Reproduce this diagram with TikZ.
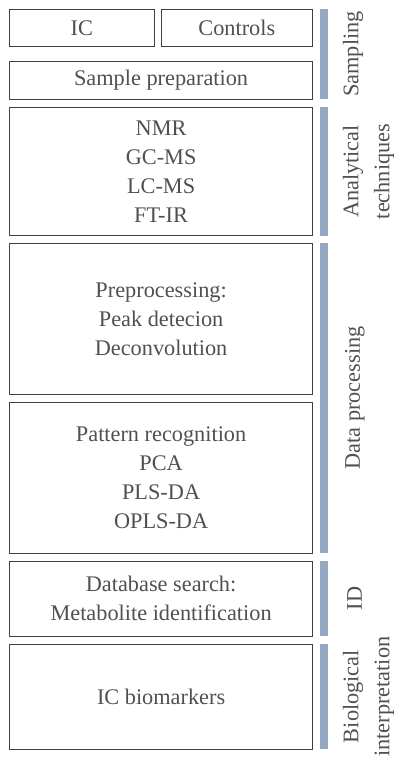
\documentclass[tikz,border=0pt]{standalone}
\usepackage{fontspec}
\setmainfont{Liberation Serif}
\definecolor{barblue}{HTML}{94A9C1}
\definecolor{txt}{HTML}{505050}
\definecolor{edge}{HTML}{404040}
\begin{document}
\begin{tikzpicture}[x=1pt,y=-1pt,
  box/.style={draw=edge, line width=0.8pt, text=txt, align=center,
    font=\fontsize{22.3}{29}\selectfont, inner sep=0pt},
  bar/.style={fill=barblue, draw=none},
  lab/.style={rotate=90, text=txt, align=center,
    font=\fontsize{22.3}{31}\selectfont, inner sep=0pt}]
\useasboundingbox (0,0) rectangle (396,758);
% boxes
\node[box, minimum width=144.5pt, minimum height=37.7pt] (ic) at (81.75,27.85) {IC};
\node[box, minimum width=151.7pt, minimum height=37.7pt] (ctrl) at (236.85,27.85) {Controls};
\node[box, minimum width=303.2pt, minimum height=38pt] (prep) at (161.1,80.3) {Sample preparation};
\node[box, minimum width=303.2pt, minimum height=128.4pt] (anal) at (161.1,171.5) {NMR\\GC-MS\\LC-MS\\FT-IR};
\node[box, minimum width=303.2pt, minimum height=151pt] (pre) at (161.1,318.8) {Preprocessing:\\Peak detecion\\Deconvolution};
\node[box, minimum width=303.2pt, minimum height=151pt] (pat) at (161.1,477.8) {Pattern recognition\\PCA\\PLS-DA\\OPLS-DA};
\node[box, minimum width=303.2pt, minimum height=75pt] (db) at (161.1,598.5) {Database search:\\Metabolite identification};
\node[box, minimum width=303.2pt, minimum height=105.3pt] (bio) at (161.1,696.65) {IC biomarkers};
% bars
\path[bar] (320,9) rectangle (328.3,99.3);
\path[bar] (320,107.3) rectangle (328.3,235.7);
\path[bar] (320,243.3) rectangle (328.3,553.3);
\path[bar] (320,561) rectangle (328.3,636);
\path[bar] (320,644) rectangle (328.3,749.3);
% labels
\node[lab] (l1) at (353,54) {Sampling};
\node[lab] (l2) at (368.5,171.5) {Analytical\\techniques};
\node[lab] (l3) at (355,398) {Data processing};
\node[lab] (l4) at (354.5,598.5) {ID};
\node[lab] (l5) at (368.5,696.6) {Biological\\interpretation};
\end{tikzpicture}
\end{document}
